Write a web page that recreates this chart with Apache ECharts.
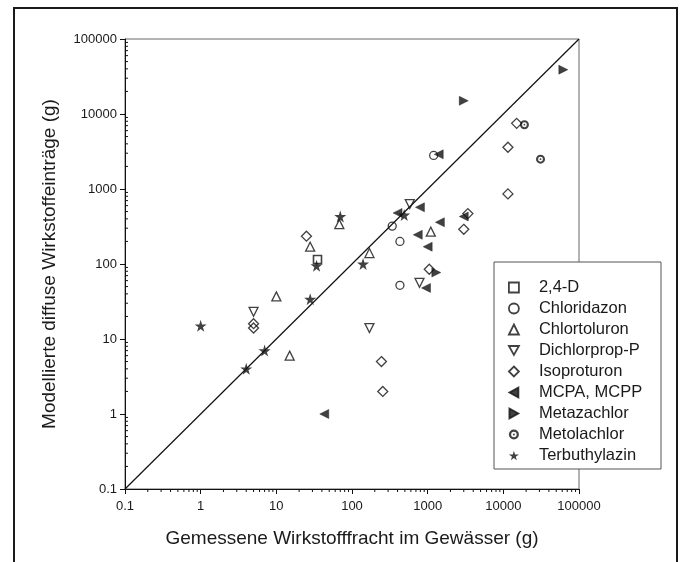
<!DOCTYPE html>
<html>
<head>
<meta charset="utf-8">
<script src="https://cdn.jsdelivr.net/npm/echarts@6/dist/echarts.min.js"></script>
<style>
  html, body { margin: 0; padding: 0; background: #fff; }
  #chart { width: 687px; height: 562px; }
</style>
</head>
<body>
<div id="chart"></div>
<script>
// measured load (x) vs modelled diffuse input (y), grams
var seriesNames = ['2,4-D', 'Chloridazon', 'Chlortoluron', 'Dichlorprop-P', 'Isoproturon',
    'MCPA, MCPP', 'Metazachlor', 'Metolachlor', 'Terbuthylazin'];

var d24dX = [35];
var d24dY = [115];
var chloridazonX = [340, 430, 430, 1200];
var chloridazonY = [320, 200, 52, 2800];
var chlortoluronX = [10, 15, 28, 68, 170, 1100];
var chlortoluronY = [37, 6, 170, 340, 140, 270];
var dichlorpropX = [5, 170, 580, 780];
var dichlorpropY = [23, 14, 630, 56];
var isoproturonX = [5, 5, 25, 245, 255, 1050, 3000, 3400, 11500, 11500, 15000];
var isoproturonY = [16, 14, 235, 5, 2, 85, 290, 470, 3600, 860, 7500];
var mcpaX = [43, 400, 790, 740, 1000, 950, 1400, 1450, 3000];
var mcpaY = [1, 480, 570, 245, 170, 48, 2900, 360, 430];
var metazachlorX = [3000, 62000, 1300];
var metazachlorY = [15000, 39000, 77];
var metolachlorX = [19000, 31000];
var metolachlorY = [7200, 2500];
var terbuthylazinX = [1, 4, 7, 28, 34, 70, 140, 490];
var terbuthylazinY = [15, 4, 7, 34, 95, 430, 100, 450];

var axisMin = 0.1;
var axisMax = 100000;
var identityLine = [0.1, 100000];
var tickLabels = ['0.1', '1', '10', '100', '1000', '10000', '100000'];

var FONT = '"Liberation Sans", Arial, sans-serif';

// log minor ticks 2..9 in every decade
var minorTicks = [];
for (var d = axisMin; d < axisMax; d *= 10) {
    for (var k = 2; k <= 9; k++) {
        minorTicks.push(+(d * k).toPrecision(3));
    }
}

function pairs(xs, ys) {
    return xs.map(function (x, i) { return [x, ys[i]]; });
}

var STAR = 'path://M50,0 L61,35 L98,35 L68,57 L79,91 L50,70 L21,91 L32,57 L2,35 L39,35 Z';
var TRI_DOWN = 'path://M0,0 L10,0 L5,9 Z';
var TRI_LEFT = 'path://M0,5 L9,0 L9,10 Z';
var TRI_RIGHT = 'path://M0,0 L9,5 L0,10 Z';
var RING_DOT = 'path://M0,10 A10,10 0 1,1 20,10 A10,10 0 1,1 0,10 Z ' +
    'M4.5,10 A5.5,5.5 0 1,0 15.5,10 A5.5,5.5 0 1,0 4.5,10 Z ' +
    'M8,10 A2,2 0 1,1 12,10 A2,2 0 1,1 8,10 Z';

var openStyle = { color: 'rgba(255,255,255,0)', borderColor: '#111', borderWidth: 1.3 };
var filledStyle = { color: '#111', borderColor: '#111', borderWidth: 0.5 };

function scatter(name, xs, ys, symbol, size, style) {
    return {
        name: name,
        type: 'scatter',
        symbol: symbol,
        symbolSize: size,
        itemStyle: style,
        data: pairs(xs, ys)
    };
}

var myChart = echarts.init(document.getElementById('chart'));

var option = {
    animation: false,
    backgroundColor: '#fff',
    graphic: [
        {
            type: 'rect',
            shape: { x: 14, y: 8, width: 663, height: 600 },
            style: { fill: 'none', stroke: '#1a1a1a', lineWidth: 2 }
        },
        {
            type: 'rect',
            shape: { x: 494, y: 262, width: 167, height: 207 },
            style: { fill: '#fff', stroke: '#555', lineWidth: 1 },
            z: 5
        }
    ],
    grid: {
        left: 125,
        top: 39,
        right: 108,
        bottom: 73,
        show: true,
        borderColor: '#666',
        borderWidth: 1
    },
    legend: {
        data: seriesNames,
        orient: 'vertical',
        left: 508,
        top: 279,
        padding: 0,
        itemWidth: 10,
        itemHeight: 10,
        itemGap: 4,
        z: 10,
        selectedMode: false,
        itemStyle: { borderWidth: 1.8 },
        textStyle: {
            fontFamily: FONT,
            fontSize: 16.5,
            color: '#1a1a1a',
            padding: [0, 0, 0, 15]
        }
    },
    xAxis: {
        type: 'log',
        logBase: 10,
        min: axisMin,
        max: axisMax,
        name: 'Gemessene Wirkstofffracht im Gewässer (g)',
        nameLocation: 'middle',
        nameGap: 40,
        nameTextStyle: { fontFamily: FONT, fontSize: 19, color: '#1a1a1a' },
        axisLine: { lineStyle: { color: '#111', width: 1 } },
        axisTick: { inside: false, length: 5, lineStyle: { color: '#111' } },
        splitLine: { show: false },
        axisLabel: {
            fontFamily: FONT,
            fontSize: 13,
            color: '#1a1a1a',
            margin: 11,
            formatter: function (v) {
                var i = Math.round(Math.log10(v)) + 1;
                return tickLabels[i];
            }
        }
    },
    yAxis: {
        type: 'log',
        logBase: 10,
        min: axisMin,
        max: axisMax,
        name: 'Modellierte diffuse Wirkstoffeinträge (g)',
        nameLocation: 'middle',
        nameGap: 66,
        nameTextStyle: { fontFamily: FONT, fontSize: 19, color: '#1a1a1a' },
        axisLine: { lineStyle: { color: '#111', width: 1 } },
        axisTick: { inside: false, length: 5, lineStyle: { color: '#111' } },
        splitLine: { show: false },
        axisLabel: {
            fontFamily: FONT,
            fontSize: 13,
            color: '#1a1a1a',
            margin: 8,
            formatter: function (v) {
                var i = Math.round(Math.log10(v)) + 1;
                return tickLabels[i];
            }
        }
    },
    series: [
        {
            name: '1:1',
            type: 'line',
            symbol: 'none',
            silent: true,
            lineStyle: { color: '#111', width: 1.2 },
            data: [[identityLine[0], identityLine[0]], [identityLine[1], identityLine[1]]],
            z: 1
        },
        {
            type: 'custom',
            silent: true,
            clip: false,
            data: minorTicks.map(function (v) { return [v, axisMin]; }),
            renderItem: function (params, api) {
                var p = api.coord([api.value(0), api.value(1)]);
                return {
                    type: 'line',
                    shape: { x1: p[0], y1: p[1], x2: p[0], y2: p[1] + 3 },
                    style: { stroke: '#111', lineWidth: 1 }
                };
            }
        },
        {
            type: 'custom',
            silent: true,
            clip: false,
            data: minorTicks.map(function (v) { return [axisMin, v]; }),
            renderItem: function (params, api) {
                var p = api.coord([api.value(0), api.value(1)]);
                return {
                    type: 'line',
                    shape: { x1: p[0], y1: p[1], x2: p[0] + 3, y2: p[1] },
                    style: { stroke: '#111', lineWidth: 1 }
                };
            }
        },
        scatter('2,4-D', d24dX, d24dY, 'rect', 8, { color: 'rgba(255,255,255,0)', borderColor: '#111', borderWidth: 1.6 }),
        scatter('Chloridazon', chloridazonX, chloridazonY, 'circle', 8, openStyle),
        scatter('Chlortoluron', chlortoluronX, chlortoluronY, 'triangle', 9, openStyle),
        scatter('Dichlorprop-P', dichlorpropX, dichlorpropY, TRI_DOWN, 9, openStyle),
        scatter('Isoproturon', isoproturonX, isoproturonY, 'diamond', 10, openStyle),
        scatter('MCPA, MCPP', mcpaX, mcpaY, TRI_LEFT, 9, filledStyle),
        scatter('Metazachlor', metazachlorX, metazachlorY, TRI_RIGHT, 9, filledStyle),
        scatter('Metolachlor', metolachlorX, metolachlorY, RING_DOT, 9, { color: '#111', borderWidth: 0 }),
        scatter('Terbuthylazin', terbuthylazinX, terbuthylazinY, STAR, 12, { color: '#111', borderWidth: 0 })
    ]
};
myChart.setOption(option);
</script>
</body>
</html>
